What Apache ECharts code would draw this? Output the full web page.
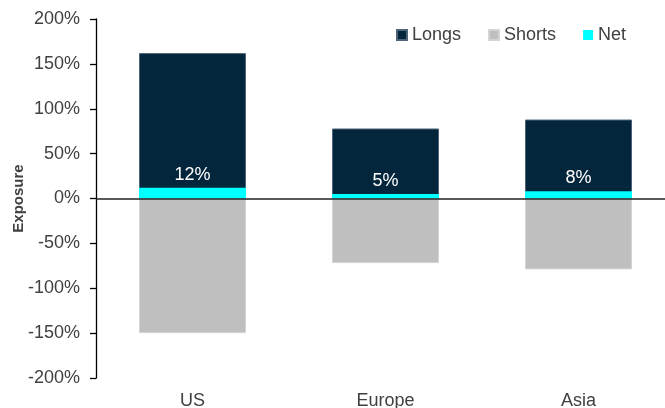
<!DOCTYPE html>
<html>
<head>
<meta charset="utf-8">
<script src="https://cdn.jsdelivr.net/npm/echarts@6/dist/echarts.min.js"></script>
<style>
html,body{margin:0;padding:0;background:#fff;}
#chart{width:665px;height:408px;}
</style>
</head>
<body>
<div id="chart"></div>
<script>
const categories = ['US', 'Europe', 'Asia'];
const longs = [162, 78, 88];
const shorts = [-150, -72, -79];
const net = [12, 5, 8];
const yTicks = { min: -200, max: 200, step: 50 };

const FONT = '"Liberation Sans", Arial, sans-serif';
const chart = echarts.init(document.getElementById('chart'), null, { renderer: 'canvas' });
chart.setOption({
  animation: false,
  textStyle: { fontFamily: FONT },
  legend: {
    top: 21,
    left: 391,
    itemWidth: 10,
    itemHeight: 10,
    itemGap: 27,
    icon: 'rect',
    textStyle: { fontSize: 18, color: '#404040', fontFamily: FONT },
    data: ['Longs', 'Shorts', 'Net']
  },
  grid: { left: 96, right: -10, top: 19, bottom: 30, containLabel: false, outerBoundsMode: 'none' },
  xAxis: {
    type: 'category',
    data: categories,
    position: 'bottom',
    axisLine: { show: false, onZero: false },
    axisTick: { show: false },
    axisLabel: { fontSize: 18, color: '#404040', margin: 14, fontFamily: FONT }
  },
  yAxis: {
    type: 'value',
    min: yTicks.min,
    max: yTicks.max,
    interval: yTicks.step,
    name: 'Exposure',
    nameLocation: 'middle',
    nameGap: 70,
    nameMoveOverlap: false,
    nameTextStyle: { fontSize: 15, fontWeight: 'bold', color: '#404040', fontFamily: FONT },
    splitLine: { show: false },
    axisLine: { show: true, lineStyle: { color: '#000', width: 1.3 } },
    axisTick: { show: true, length: 6, lineStyle: { color: '#000', width: 1.3 } },
    axisLabel: { fontSize: 18, color: '#404040', margin: 16, formatter: '{value}%', fontFamily: FONT }
  },
  series: [
    {
      name: 'Longs', type: 'bar', data: longs, barWidth: 107, barGap: '-100%',
      itemStyle: { color: '#03263c', borderColor: '#4f6476', borderWidth: 1 },
      markLine: {
        silent: true, symbol: 'none', label: { show: false },
        lineStyle: { color: '#222', width: 1.5, type: 'solid' },
        data: [{ yAxis: 0 }]
      }
    },
    {
      name: 'Shorts', type: 'bar', data: shorts, barWidth: 107, barGap: '-100%',
      itemStyle: { color: '#bfbfbf', borderColor: '#d4d4d4', borderWidth: 1 }
    },
    {
      name: 'Net', type: 'bar', data: net, barWidth: 107, barGap: '-100%',
      itemStyle: { color: '#00ffff' },
      label: { show: true, position: 'top', distance: 4, color: '#ffffff', fontSize: 18, formatter: '{c}%', fontFamily: FONT }
    }
  ]
});
</script>
</body>
</html>
